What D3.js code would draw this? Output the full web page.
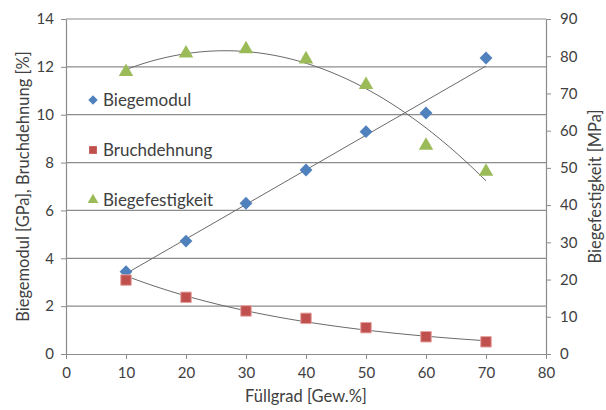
<!DOCTYPE html>
<html>
<head>
<meta charset="utf-8">
<script src="https://cdn.jsdelivr.net/npm/d3@7"></script>
<style>
  body { margin: 0; background: #fff; }
  svg text { font-family: Lato, "Open Sans", sans-serif; fill: #404040; }
</style>
</head>
<body>
<svg id="chart" width="606" height="410"></svg>
<script>
const fuellgrad = [10, 20, 30, 40, 50, 60, 70];
const biegemodul = [3.44, 4.72, 6.3, 7.69, 9.29, 10.07, 12.37];
const bruchdehnung = [3.09, 2.37, 1.8, 1.49, 1.1, 0.72, 0.51];
const biegefestigkeit = [75.8, 80.8, 81.9, 79.2, 72.3, 56, 49];
const xTicks = [0, 10, 20, 30, 40, 50, 60, 70, 80];
const yLeftTicks = [0, 2, 4, 6, 8, 10, 12, 14];
const yRightTicks = [0, 10, 20, 30, 40, 50, 60, 70, 80, 90];

const settings = {
    xMax: 606, yMax: 410,
    margins: { left: 66, right: 60, top: 19, bottom: 56 }
};

function getChartWidth(s) { return s.xMax - (s.margins.left + s.margins.right); }
function getChartHeight(s) { return s.yMax - (s.margins.top + s.margins.bottom); }

// least squares helpers for the trendlines
function linearFit(xs, ys) {
    const mx = d3.mean(xs), my = d3.mean(ys);
    const slope = d3.sum(xs, (x, i) => (x - mx) * (ys[i] - my)) / d3.sum(xs, x => (x - mx) ** 2);
    return x => my + slope * (x - mx);
}
function expFit(xs, ys) {
    const lin = linearFit(xs, ys.map(Math.log));
    return x => Math.exp(lin(x));
}
function polyFit2(xs, ys) {
    // normal equations for a + b x + c x^2
    const s = k => d3.sum(xs, x => x ** k);
    const t = k => d3.sum(xs, (x, i) => x ** k * ys[i]);
    const A = [[s(0), s(1), s(2), t(0)], [s(1), s(2), s(3), t(1)], [s(2), s(3), s(4), t(2)]];
    for (let i = 0; i < 3; i++) {
        for (let j = i + 1; j < 3; j++) {
            const f = A[j][i] / A[i][i];
            for (let k = i; k < 4; k++) A[j][k] -= f * A[i][k];
        }
    }
    const c = [0, 0, 0];
    for (let i = 2; i >= 0; i--) {
        let v = A[i][3];
        for (let k = i + 1; k < 3; k++) v -= A[i][k] * c[k];
        c[i] = v / A[i][i];
    }
    return x => c[0] + c[1] * x + c[2] * x * x;
}

const svg = d3.select('#chart');
const w = getChartWidth(settings), h = getChartHeight(settings);
const g = svg.append('g').attr('transform', `translate(${settings.margins.left} ${settings.margins.top})`);

const x = d3.scaleLinear().domain([0, 80]).range([0, w]);
const yL = d3.scaleLinear().domain([0, 14]).range([h, 0]);
const yR = d3.scaleLinear().domain([0, 90]).range([h, 0]);

// grid
g.append('g').selectAll('line').data(yLeftTicks.filter(d => d > 0)).enter().append('line')
    .attr('x1', 0).attr('x2', w)
    .attr('y1', d => yL(d)).attr('y2', d => yL(d))
    .attr('stroke', '#8c8c8c').attr('stroke-width', 1.2);

function styleAxis(sel) {
    sel.select('.domain').attr('stroke', '#8c8c8c').attr('stroke-width', 1.2);
    sel.selectAll('.tick line').attr('stroke', '#8c8c8c');
    sel.selectAll('.tick text').style('font-size', '15px').attr('fill', '#404040');
}

g.append('g').attr('transform', `translate(0 ${h})`)
    .call(d3.axisBottom(x).tickValues(xTicks).tickSizeInner(5).tickSizeOuter(0).tickPadding(8))
    .call(styleAxis);
g.append('g')
    .call(d3.axisLeft(yL).tickValues(yLeftTicks).tickSizeInner(5).tickSizeOuter(0).tickPadding(7))
    .call(styleAxis);
g.append('g').attr('transform', `translate(${w} 0)`)
    .call(d3.axisRight(yR).tickValues(yRightTicks).tickSizeInner(5).tickSizeOuter(0).tickPadding(9))
    .call(styleAxis);

// trendlines
const range = d3.range(10, 70.01, 0.5);
const trends = [
    { f: linearFit(fuellgrad, biegemodul), y: yL },
    { f: expFit(fuellgrad, bruchdehnung), y: yL },
    { f: polyFit2(fuellgrad, biegefestigkeit), y: yR }
];
trends.forEach(t => {
    g.append('path')
        .attr('d', d3.line().x(d => x(d)).y(d => t.y(t.f(d)))(range))
        .attr('fill', 'none').attr('stroke', '#6a6a6a').attr('stroke-width', 1);
});

const series = [
    { name: 'Biegemodul', values: biegemodul, y: yL, symbol: d3.symbolDiamond2, size: 105, color: '#4f81bd' },
    { name: 'Bruchdehnung', values: bruchdehnung, y: yL, symbol: d3.symbolSquare2, size: 140, color: '#c0504d' },
    { name: 'Biegefestigkeit', values: biegefestigkeit, y: yR, symbol: d3.symbolTriangle2, size: 150, color: '#9bbb59' }
];

series.forEach(s => {
    g.append('g').selectAll('path').data(s.values).enter().append('path')
        .attr('d', d3.symbol().type(s.symbol).size(s.size))
        .attr('transform', (d, i) => `translate(${x(fuellgrad[i])} ${s.y(d)})`)
        .attr('fill', s.color)
        .attr('stroke', s.name === 'Bruchdehnung' ? '#e4a5a3' : 'none')
        .attr('stroke-width', 1);
});

// legend
const legend = g.append('g').attr('transform', 'translate(27 81)');
series.forEach((s, i) => {
    const item = legend.append('g').attr('transform', `translate(0 ${i * 50})`);
    item.append('path')
        .attr('d', d3.symbol().type(s.symbol).size(s.size * 0.55))
        .attr('fill', s.color);
    item.append('text').attr('x', 10).attr('y', 6).style('font-size', '17px').text(s.name);
});

// axis titles
svg.append('text').attr('transform', `translate(29 ${settings.margins.top + h / 2}) rotate(-90)`)
    .attr('text-anchor', 'middle').style('font-size', '16.5px').text('Biegemodul [GPa], Bruchdehnung [%]');
svg.append('text').attr('transform', `translate(601 ${settings.margins.top + h / 2}) rotate(-90)`)
    .attr('text-anchor', 'middle').style('font-size', '16.5px').text('Biegefestigkeit [MPa]');
svg.append('text').attr('x', settings.margins.left + w / 2).attr('y', 402)
    .attr('text-anchor', 'middle').style('font-size', '16.5px').text('Füllgrad [Gew.%]');
</script>
</body>
</html>
